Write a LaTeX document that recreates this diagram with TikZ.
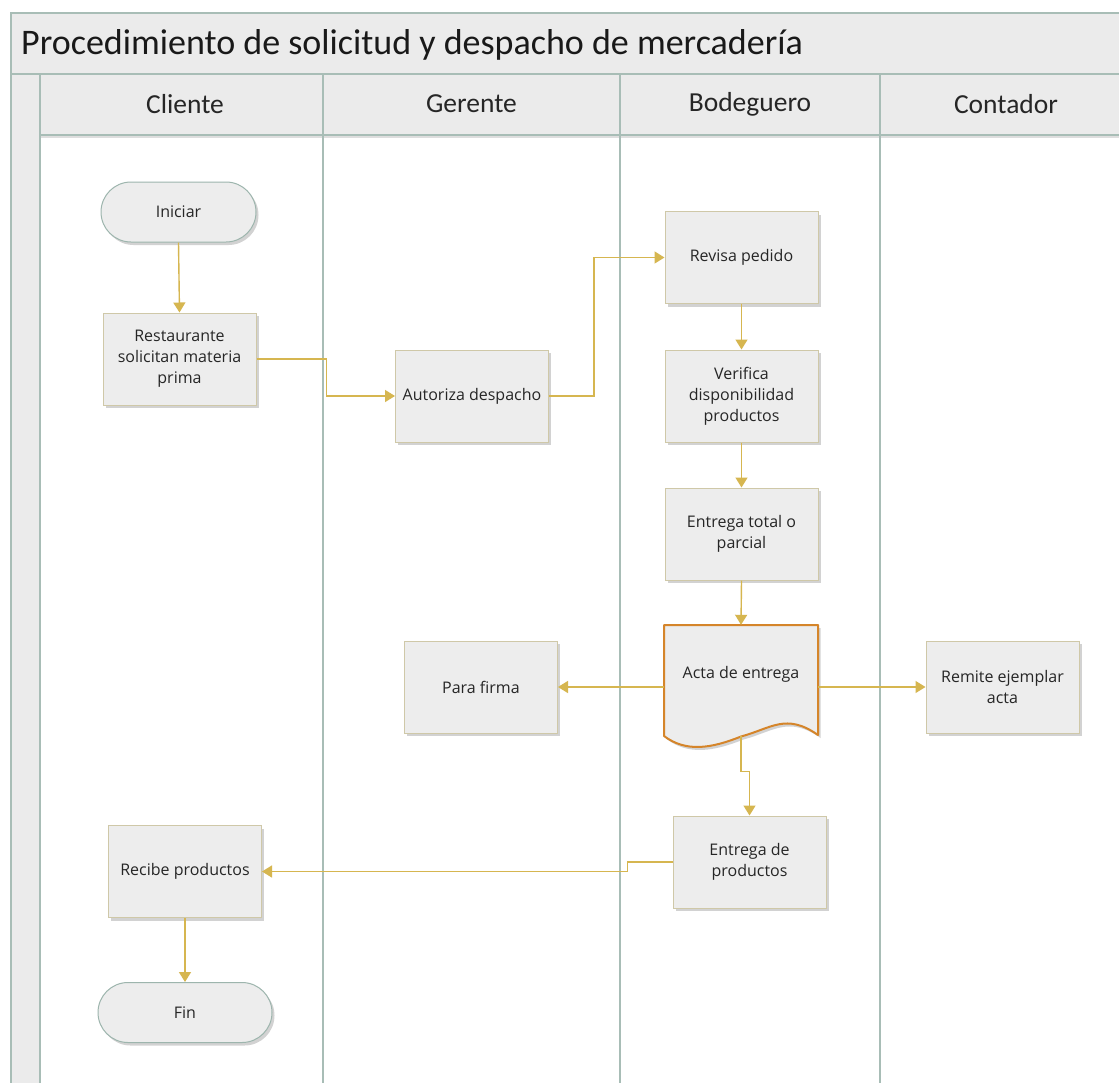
\documentclass[tikz,border=0pt]{standalone}
\usepackage{fontspec}
\setmainfont{Open Sans}
\newfontfamily\carl{Carlito}
\usetikzlibrary{arrows.meta,shadows,calc}
\definecolor{lanec}{HTML}{A8BDB6}
\definecolor{hdrfill}{HTML}{EBEBEB}
\definecolor{boxfill}{HTML}{EDEDED}
\definecolor{boxline}{HTML}{CFC8A8}
\definecolor{termline}{HTML}{9DB5AD}
\definecolor{flowc}{HTML}{D6B650}
\definecolor{docline}{HTML}{D5852A}
\definecolor{txt}{HTML}{262626}
\begin{document}
\begin{tikzpicture}[x=1pt,y=-1pt,
  shad/.style={drop shadow={shadow xshift=2.5pt,shadow yshift=-3pt,opacity=0.22,fill=black!80}},
  proc/.style={rectangle,draw=boxline,line width=1pt,fill=boxfill,minimum width=153pt,minimum height=92pt,
    align=center,font=\fontsize{16}{21}\selectfont,text=txt,inner sep=0pt,shad},
  term/.style={rectangle,rounded corners=30pt,draw=termline,line width=1pt,fill=boxfill,minimum height=60pt,
    align=center,font=\fontsize{16}{21}\selectfont,text=txt,inner sep=0pt,shad},
  docbox/.style={rectangle,minimum width=154pt,minimum height=111pt,inner sep=0pt},
  doctext/.style={font=\fontsize{16}{21}\selectfont,text=txt,inner sep=0pt},
  flow/.style={draw=flowc,line width=1.4pt,-{Triangle[length=10pt,width=12pt]}},
  lane/.style={draw=lanec,line width=1.2pt},
  hdr/.style={font=\carl\fontsize{27.5}{30}\selectfont,text=black!85,inner sep=0pt},
  ttl/.style={font=\carl\fontsize{36}{40}\selectfont,text=black!90,inner sep=0pt,anchor=west}]
\useasboundingbox (0,0) rectangle (1119,1082);
\clip (0,0) rectangle (1119,1082);
% pool
\fill[white] (0,0) rectangle (1119,1082);
\fill[hdrfill] (11,13) rectangle (1130,135);
\fill[hdrfill] (11,135) rectangle (40,1090);
\draw[lane] (11,1090) -- (11,13) -- (1130,13);
\draw[lane] (11,74) -- (1130,74);
\draw[black!25,line width=2pt,opacity=0.5] (40,137) -- (1130,137);
\draw[lane] (40,135) -- (1130,135);
\foreach \xx in {40,323,620,880} \draw[lane] (\xx,74) -- (\xx,1090);
\node[ttl] (title) at (21,45) {Procedimiento de solicitud y despacho de mercadería};
\node[hdr] (hcli) at (185,104) {Cliente};
\node[hdr] (hger) at (471.5,104) {Gerente};
\node[hdr] (hbod) at (750,104) {Bodeguero};
\node[hdr] (hcon) at (1006,104) {Contador};
% nodes
\node[term,minimum width=155pt] (ini) at (178.5,212) {Iniciar};
\node[proc] (rest) at (179.5,359) {Restaurante\\solicitan materia\\prima};
\node[proc] (aut) at (472,396) {Autoriza despacho};
\node[proc] (rev) at (741.5,257.5) {Revisa pedido};
\node[proc] (ver) at (741.5,396) {Verifica\\disponibilidad\\productos};
\node[proc] (entt) at (741.5,534) {Entrega total o\\parcial};
\node[docbox] (acta) at (741,680.5) {};
\begin{scope}[shift={(acta.center)}]
\draw[draw=docline,line width=2pt,fill=boxfill,line join=round,shad]
  (-77,-55.5) -- (77,-55.5) -- (77,54.5)
  .. controls (45,32) and (30,48) .. (0,56)
  .. controls (-30,68) and (-55,72) .. (-77,55.5) -- cycle;
\end{scope}
\node[doctext] (actat) at (741,674) {Acta de entrega};
\node[proc] (firma) at (481,687) {Para firma};
\node[proc] (rem) at (1002.5,687) {Remite ejemplar\\acta};
\node[proc] (entp) at (749.5,862) {Entrega de\\productos};
\node[proc] (rec) at (185,871.5) {Recibe productos};
\node[term,minimum width=174pt] (fin) at (185,1012.5) {Fin};
% connectors
\draw[flow] (ini.south) -- (rest.north);
\draw[flow] (rest.east) -- ++(70,0) |- (aut.west);
\draw[flow] (aut.east) -- ++(45,0) |- (rev.west);
\draw[flow] (rev.south) -- (ver.north);
\draw[flow] (ver.south) -- (entt.north);
\draw[flow] (entt.south) -- (acta.north);
\draw[flow] (acta.west |- firma.east) -- (firma.east);
\draw[flow] (acta.east |- rem.west) -- (rem.west);
\draw[flow] (acta.south) -- ++(0,35) -| (entp.north);
\draw[flow] (entp.west) -- ++(-45,0) |- (rec.east);
\draw[flow] (rec.south) -- (fin.north);
\end{tikzpicture}
\end{document}
